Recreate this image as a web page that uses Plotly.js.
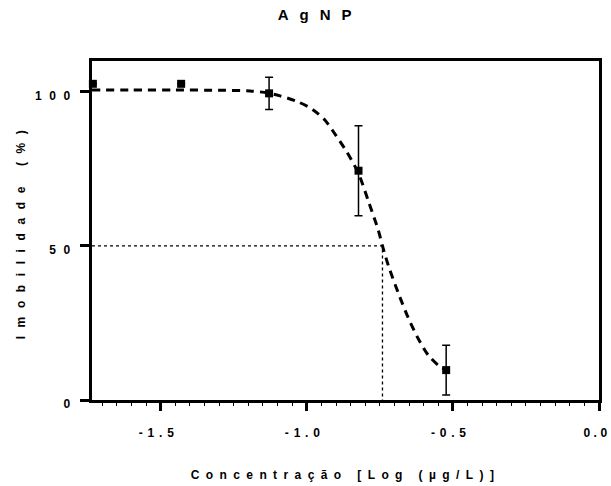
<!DOCTYPE html>
<html>
<head>
<meta charset="utf-8">
<script src="https://cdn.plot.ly/plotly-3.0.1.min.js"></script>
<style>
html, body { margin: 0; padding: 0; background: #fff; }
#chart { width: 611px; height: 486px; }
.xtick text { letter-spacing: 4.8px; }
g.xtick:last-of-type text { letter-spacing: 3.5px; }
.ytick text { letter-spacing: 7.5px; }
text.gtitle { letter-spacing: 11px; }
text.xtitle { letter-spacing: 6.4px; }
text.ytitle { letter-spacing: 8.6px; }
</style>
</head>
<body>
<div id="chart"></div>
<script>
// Measured points (log concentration, % immobility) with SD
var logConc = [-1.732, -1.43, -1.129, -0.823, -0.523];
var imobilidade = [102.6, 102.6, 99.5, 74.4, 9.7];
var sd = [0, 0, 5.2, 14.6, 8.1];

// Fitted curve
var curveX = [-1.735, -1.60, -1.45, -1.30, -1.194, -1.1325, -1.0915, -1.034, -0.982, -0.9375, -0.910, -0.863, -0.823, -0.789, -0.755, -0.741, -0.7205, -0.686, -0.652, -0.618, -0.584, -0.549, -0.530];
var curveY = [100.6, 100.6, 100.6, 100.5, 100.3, 99.6, 98.7, 96.9, 94.4, 90.8, 87.2, 80.5, 73.5, 64.5, 55.0, 50.0, 43.5, 34.5, 26.5, 19.8, 14.5, 11.2, 10.0];

// EC50 reference lines
var ec50X = [-1.735, -0.741, -0.741];
var ec50Y = [50, 50, 0];

// Tick labels
var xTickVals = [-1.5, -1.0, -0.5, 0.0];
var xTickText = ['-1.5', '-1.0', '-0.5', '0.0'];
var yTickVals = [0, 50, 100];
var yTickText = ['0', '50', '100'];

var traces = [
  {
    x: curveX, y: curveY, mode: 'lines', type: 'scatter',
    line: {color: '#000', width: 3, dash: '8px,6px', shape: 'spline', smoothing: 0.8},
    hoverinfo: 'skip', showlegend: false, cliponaxis: false
  },
  {
    x: ec50X, y: ec50Y, mode: 'lines', type: 'scatter',
    line: {color: '#000', width: 1.3, dash: '3px,3px'},
    hoverinfo: 'skip', showlegend: false
  },
  {
    x: logConc, y: imobilidade, mode: 'markers', type: 'scatter',
    marker: {symbol: 'square', size: 8, color: '#000'},
    error_y: {type: 'data', array: sd, visible: true, color: '#000', thickness: 1.5, width: 4},
    showlegend: false, cliponaxis: false
  }
];

var tickFont = {family: 'Liberation Sans, Arial, sans-serif', size: 12, color: '#000', weight: 'bold'};
var titleFont = {family: 'Liberation Sans, Arial, sans-serif', size: 12, color: '#000', weight: 'bold'};

var layout = {
  width: 611, height: 486,
  margin: {l: 92, r: 12, t: 61, b: 86},
  paper_bgcolor: '#fff', plot_bgcolor: '#fff',
  title: {
    text: 'AgNP', xref: 'container', x: 0.524, xanchor: 'center',
    yref: 'container', y: 0.969, yanchor: 'middle',
    font: {family: 'Liberation Sans, Arial, sans-serif', size: 15, color: '#000', weight: 'bold'}
  },
  xaxis: {
    range: [-1.735, 0.0], tickvals: xTickVals, ticktext: xTickText,
    ticks: 'outside', ticklen: 8, tickwidth: 3, tickcolor: '#000',
    ticklabelstandoff: 12, ticklabelshift: -2, ticklabeloverflow: 'allow',
    showline: true, linewidth: 3, linecolor: '#000', mirror: true,
    showgrid: false, zeroline: false, tickfont: tickFont,
    minor: {dtick: 0.05, tick0: 0, ticks: 'outside', ticklen: 3, tickwidth: 1, tickcolor: '#000', showgrid: false},
    title: {text: '\u00a0\u00a0Concentração [Log (µg/L)]', standoff: 32, font: titleFont},
    automargin: false
  },
  yaxis: {
    range: [0, 110], tickvals: yTickVals, ticktext: yTickText,
    ticks: 'outside', ticklen: 9, tickwidth: 3, tickcolor: '#000',
    ticklabelshift: 4,
    showline: true, linewidth: 3, linecolor: '#000', mirror: true,
    showgrid: false, zeroline: false, tickfont: tickFont,
    title: {text: '\u00a0\u00a0\u00a0Imobilidade (%)', standoff: 7, font: titleFont},
    automargin: false
  }
};

Plotly.newPlot('chart', traces, layout, {displayModeBar: false, staticPlot: true});
</script>
</body>
</html>
